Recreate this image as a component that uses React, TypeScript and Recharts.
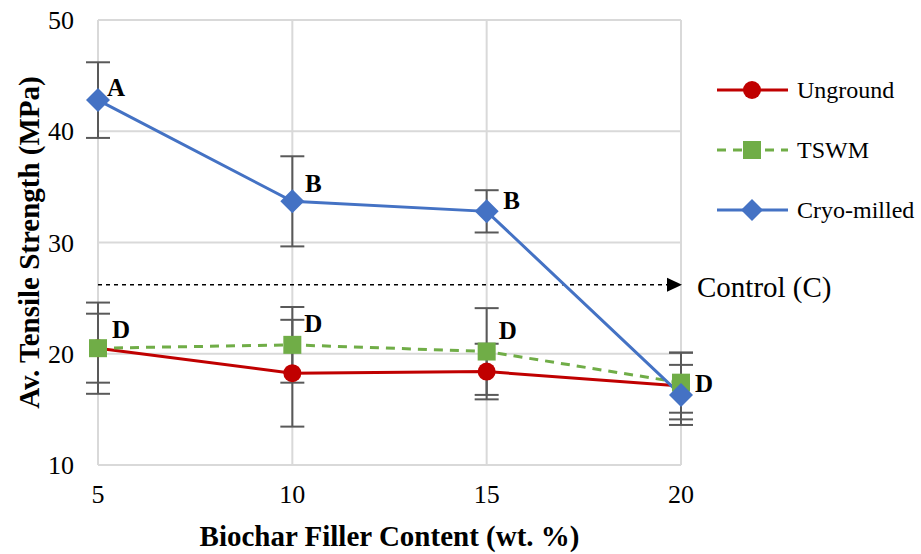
import React from 'react';
import { LineChart, Line, XAxis, YAxis, CartesianGrid, ErrorBar, ReferenceLine, LabelList } from 'recharts';

// biochar filler content (wt. %)
const content = [5, 10, 15, 20];

// average tensile strength (MPa) and std dev
const unground = [20.5, 18.25, 18.4, 17.1];
const ungroundErr = [4.1, 4.8, 2.5, 3.0];
const tswm = [20.5, 20.8, 20.2, 17.4];
const tswmErr = [3.1, 3.4, 3.9, 2.7];
const cryo = [42.8, 33.7, 32.8, 16.3];
const cryoErr = [3.4, 4.05, 1.9, 2.7];

// statistical grouping letters
const cryoLetters = ['A', 'B', 'B', ''];
const groupLetters = ['D', 'D', 'D', 'D'];

const controlStrength = 26.2;
const yTicks = [10, 20, 30, 40, 50];

const RED = '#c00000';
const GREEN = '#70ad47';
const BLUE = '#4472c4';
const ERR = '#595959';
const FONT = '"Liberation Serif", "Times New Roman", serif';

const data = content.map((x, i) => ({
  x,
  unground: unground[i],
  ungroundErr: ungroundErr[i],
  tswm: tswm[i],
  tswmErr: tswmErr[i],
  cryo: cryo[i],
  cryoErr: cryoErr[i],
}));

// label nudges (px) so letters sit beside their markers
const cryoOffsets = [[18, -13], [21, -18], [25, -11], [0, 0]];
const groupOffsets = [[23, -19], [21, -22], [21, -21], [23, 1]];

const CircleDot = (props: any) => (
  <circle key={`c-${props.index}`} cx={props.cx} cy={props.cy} r={9} fill={RED} />
);
const SquareDot = (props: any) => (
  <rect key={`s-${props.index}`} x={props.cx - 9} y={props.cy - 9} width={18} height={18} fill={GREEN} />
);
const DiamondDot = (props: any) => {
  const { cx, cy } = props;
  const r = 12;
  return (
    <path
      key={`d-${props.index}`}
      d={`M${cx},${cy - r}L${cx + r},${cy}L${cx},${cy + r}L${cx - r},${cy}Z`}
      fill={BLUE}
    />
  );
};

const letterLabel = (letters: string[], offsets: number[][]) => (props: any) => {
  const { x, y, index } = props;
  if (!letters[index]) return null;
  return (
    <text
      x={x + offsets[index][0]}
      y={y + offsets[index][1]}
      textAnchor="middle"
      dy="0.35em"
      fontFamily={FONT}
      fontWeight="bold"
      fontSize={25}
      fill="#000"
    >
      {letters[index]}
    </text>
  );
};

const legendItems = [
  { name: 'Unground', color: RED, dash: undefined, marker: 'circle' },
  { name: 'TSWM', color: GREEN, dash: '9 7', marker: 'square' },
  { name: 'Cryo-milled', color: BLUE, dash: undefined, marker: 'diamond' },
];

const LegendBox = () => (
  <svg width={206} height={180} style={{ position: 'absolute', left: 715, top: 60 }}>
    {legendItems.map((item, i) => {
      const cy = 30 + i * 60;
      return (
        <g key={item.name}>
          <line x1={2} x2={73} y1={cy} y2={cy} stroke={item.color} strokeWidth={3} strokeDasharray={item.dash} />
          {item.marker === 'circle' && <circle cx={37} cy={cy} r={9} fill={item.color} />}
          {item.marker === 'square' && <rect x={28} y={cy - 9} width={18} height={18} fill={item.color} />}
          {item.marker === 'diamond' && (
            <path d={`M37,${cy - 11}L48,${cy}L37,${cy + 11}L26,${cy}Z`} fill={item.color} />
          )}
          <text x={82} y={cy} dy="0.35em" fontFamily={FONT} fontSize={24} fill="#000">
            {item.name}
          </text>
        </g>
      );
    })}
  </svg>
);

const controlLabel = (props: any) => {
  const { viewBox } = props;
  const xEnd = viewBox.x + viewBox.width;
  const y = viewBox.y;
  return (
    <g>
      <path d={`M${xEnd - 14},${y - 7}L${xEnd + 1},${y}L${xEnd - 14},${y + 7}Z`} fill="#000" />
      <text x={xEnd + 16} y={y + 2} dy="0.35em" fontFamily={FONT} fontSize={29} fill="#000">
        Control (C)
      </text>
    </g>
  );
};

export default function App() {
  return (
    <div style={{ width: 921, height: 554, position: 'relative', background: '#fff', fontFamily: FONT }}>
      <style>{'body{margin:0}'}</style>
      <LineChart width={921} height={554} data={data} margin={{ top: 20, right: 240, left: 0, bottom: 0 }}>
        <CartesianGrid stroke="#d9d9d9" strokeWidth={2} />
        <XAxis
          dataKey="x"
          type="number"
          domain={[5, 20]}
          ticks={content}
          height={89}
          axisLine={false}
          tickLine={false}
          tickMargin={14}
          tick={{ fontFamily: FONT, fontSize: 26, fill: '#000' }}
          label={(p: any) => (
            <text
              x={p.viewBox.x + p.viewBox.width / 2}
              y={546}
              textAnchor="middle"
              fontFamily={FONT}
              fontWeight="bold"
              fontSize={29}
              fill="#000"
            >
              Biochar Filler Content (wt. %)
            </text>
          )}
        />
        <YAxis
          type="number"
          domain={[10, 50]}
          ticks={yTicks}
          width={98}
          axisLine={false}
          tickLine={false}
          tickMargin={18}
          tick={{ fontFamily: FONT, fontSize: 26, fill: '#000' }}
          label={(p: any) => (
            <text
              x={29}
              y={p.viewBox.y + p.viewBox.height / 2}
              transform={`rotate(-90, 29, ${p.viewBox.y + p.viewBox.height / 2})`}
              textAnchor="middle"
              dy="0.35em"
              fontFamily={FONT}
              fontWeight="bold"
              fontSize={29}
              fill="#000"
            >
              Av. Tensile Strength (MPa)
            </text>
          )}
        />
        <ReferenceLine
          y={controlStrength}
          stroke="#000"
          strokeWidth={1.5}
          strokeDasharray="4 4"
          label={controlLabel}
        />
        <Line
          dataKey="unground"
          name="Unground"
          stroke={RED}
          strokeWidth={3}
          dot={CircleDot}
          isAnimationActive={false}
        >
          <ErrorBar dataKey="ungroundErr" direction="y" width={12} stroke={ERR} strokeWidth={2} />
        </Line>
        <Line
          dataKey="tswm"
          name="TSWM"
          stroke={GREEN}
          strokeWidth={3}
          strokeDasharray="9 7"
          dot={SquareDot}
          isAnimationActive={false}
        >
          <ErrorBar dataKey="tswmErr" direction="y" width={12} stroke={ERR} strokeWidth={2} />
          <LabelList dataKey="tswm" content={letterLabel(groupLetters, groupOffsets)} />
        </Line>
        <Line
          dataKey="cryo"
          name="Cryo-milled"
          stroke={BLUE}
          strokeWidth={3}
          dot={DiamondDot}
          isAnimationActive={false}
        >
          <ErrorBar dataKey="cryoErr" direction="y" width={12} stroke={ERR} strokeWidth={2} />
          <LabelList dataKey="cryo" content={letterLabel(cryoLetters, cryoOffsets)} />
        </Line>
      </LineChart>
      <LegendBox />
    </div>
  );
}
